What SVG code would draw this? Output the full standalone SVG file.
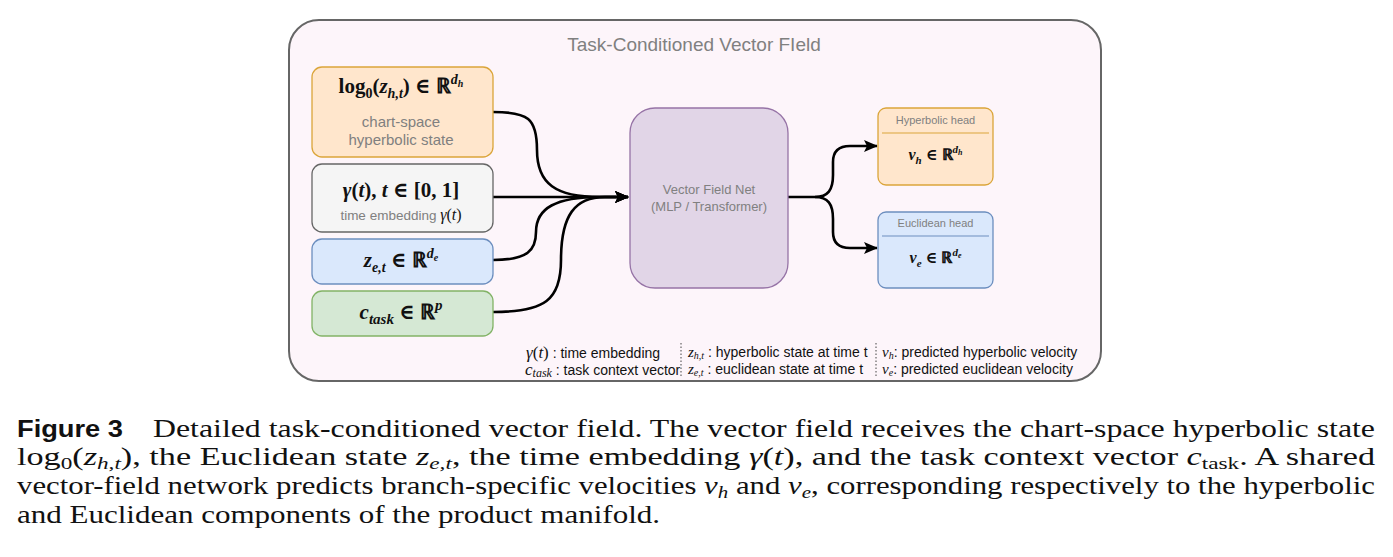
<svg xmlns="http://www.w3.org/2000/svg" width="1393" height="557" viewBox="0 0 1393 557">
<style>
.m{font-family:"Liberation Serif","DejaVu Serif",serif;fill:#111;}
.mb{font-family:"Liberation Serif","DejaVu Serif",serif;font-weight:bold;fill:#111;}
.g{font-family:"Liberation Sans",Arial,sans-serif;fill:#808080;}
.lg{font-family:"Liberation Sans",Arial,sans-serif;fill:#111;font-size:14px;}
.cap{font-family:"Liberation Serif","Times New Roman",serif;font-size:25px;fill:#111;}
.conn{fill:none;stroke:#000;stroke-width:2.6;}
</style>
<defs>
<marker id="arr" markerWidth="14" markerHeight="12" refX="13" refY="6" orient="auto" markerUnits="userSpaceOnUse">
<path d="M0,0 L14,6 L0,12 L3,6 z" fill="#000"/>
</marker>
</defs>
<rect width="1393" height="557" fill="#fff"/>
<g id="container">
<rect x="289" y="20" width="812" height="361" rx="30" fill="#fdf5fa" stroke="#666" stroke-width="2"/>
<text x="694" y="51" text-anchor="middle" class="g" font-size="19" fill="#666">Task-Conditioned Vector FIeld</text>
</g>
<g id="connectors">
<path class="conn" d="M493,112 C528,112 537,118 537,150 C537,184 556,197 600,197 L628,197" marker-end="url(#arr)"/>
<path class="conn" d="M493,197 L628,197" marker-end="url(#arr)"/>
<path class="conn" d="M493,260 C528,260 536,250 536,232 C536,208 556,197 600,197 L628,197" marker-end="url(#arr)"/>
<path class="conn" d="M493,312 C545,312 561,300 561,260 C561,215 575,197 605,197 L628,197" marker-end="url(#arr)"/>
<path class="conn" d="M788,197 L815,197 C828,197 833,190 833,175 L833,162 C833,152 838,146 850,146 L877,146" marker-end="url(#arr)"/>
<path class="conn" d="M815,197 C828,197 833,204 833,219 L833,232 C833,242 838,248 850,248 L877,248" marker-end="url(#arr)"/>
</g>
<g id="node-hyperbolic-state">
<rect x="312" y="67" width="181" height="90" rx="10" fill="#ffe6cc" stroke="#dba53a" stroke-width="1.3"/>
<text x="401" y="93" text-anchor="middle" class="mb" font-size="21">log<tspan dy="5" font-size="14">0</tspan><tspan dy="-5">(</tspan><tspan font-style="italic">z</tspan><tspan dy="5" font-size="14" font-style="italic">h,t</tspan><tspan dy="-5">) ∈ ℝ</tspan><tspan dy="-9" font-size="14" font-style="italic">d<tspan dy="3" font-size="10">h</tspan></tspan></text>
<text x="401" y="127" text-anchor="middle" class="g" font-size="15">chart-space</text>
<text x="401" y="145" text-anchor="middle" class="g" font-size="15">hyperbolic state</text>
</g>
<g id="node-time">
<rect x="312" y="164" width="181" height="68" rx="10" fill="#f5f5f5" stroke="#666" stroke-width="1.3"/>
<text x="401" y="197" text-anchor="middle" class="mb" font-size="21"><tspan font-style="italic">γ</tspan>(<tspan font-style="italic">t</tspan>), <tspan font-style="italic">t</tspan> ∈ [0, 1]</text>
<text x="401" y="220" text-anchor="middle" class="g" font-size="13.5">time embedding <tspan class="m" font-style="italic" fill="#808080" font-size="16">γ</tspan><tspan class="m" fill="#808080" font-size="16">(<tspan font-style="italic">t</tspan>)</tspan></text>
</g>
<g id="node-euclidean-state">
<rect x="312" y="239" width="181" height="45" rx="10" fill="#dae8fc" stroke="#6c8ebf" stroke-width="1.3"/>
<text x="401" y="267" text-anchor="middle" class="mb" font-size="21"><tspan font-style="italic">z</tspan><tspan dy="5" font-size="14" font-style="italic">e,t</tspan><tspan dy="-5"> ∈ ℝ</tspan><tspan dy="-9" font-size="14" font-style="italic">d<tspan dy="3" font-size="10">e</tspan></tspan></text>
</g>
<g id="node-task">
<rect x="312" y="291" width="181" height="45" rx="10" fill="#d5e8d4" stroke="#82b366" stroke-width="1.3"/>
<text x="401" y="319" text-anchor="middle" class="mb" font-size="21"><tspan font-style="italic">c</tspan><tspan dy="5" font-size="15" font-style="italic">task</tspan><tspan dy="-5"> ∈ ℝ</tspan><tspan dy="-9" font-size="15" font-style="italic">p</tspan></text>
</g>
<g id="node-vfnet">
<rect x="630" y="108" width="158" height="180" rx="25" fill="#e1d5e7" stroke="#9673a6" stroke-width="1.3"/>
<text x="709" y="194" text-anchor="middle" class="g" font-size="13" fill="#777">Vector Field Net</text>
<text x="709" y="211" text-anchor="middle" class="g" font-size="13" fill="#777">(MLP / Transformer)</text>
</g>
<g id="node-hyperbolic-head">
<rect x="878" y="108" width="115" height="77" rx="8" fill="#ffe6cc" stroke="#dba53a" stroke-width="1.3"/>
<text x="935.5" y="124" text-anchor="middle" class="g" font-size="11" fill="#777">Hyperbolic head</text>
<line x1="882" y1="133" x2="989" y2="133" stroke="#dba53a" stroke-width="1"/>
<text x="935.5" y="160" text-anchor="middle" class="mb" font-size="16"><tspan font-style="italic">v</tspan><tspan dy="4" font-size="11" font-style="italic">h</tspan><tspan dy="-4"> ∈ ℝ</tspan><tspan dy="-7" font-size="11" font-style="italic">d<tspan dy="2" font-size="8">h</tspan></tspan></text>
</g>
<g id="node-euclidean-head">
<rect x="878" y="212" width="115" height="76" rx="8" fill="#dae8fc" stroke="#6c8ebf" stroke-width="1.3"/>
<text x="935.5" y="227" text-anchor="middle" class="g" font-size="11" fill="#777">Euclidean head</text>
<line x1="882" y1="236" x2="989" y2="236" stroke="#6c8ebf" stroke-width="1"/>
<text x="935.5" y="263" text-anchor="middle" class="mb" font-size="16"><tspan font-style="italic">v</tspan><tspan dy="4" font-size="11" font-style="italic">e</tspan><tspan dy="-4"> ∈ ℝ</tspan><tspan dy="-7" font-size="11" font-style="italic">d<tspan dy="2" font-size="8">e</tspan></tspan></text>
</g>
<g id="legend">
<text x="526" y="358" class="lg"><tspan class="m" font-style="italic" font-size="17">γ</tspan><tspan class="m" font-size="17">(<tspan font-style="italic">t</tspan>)</tspan> : time embedding</text>
<text x="525" y="375" class="lg"><tspan class="m" font-style="italic" font-size="17">c</tspan><tspan class="m" font-style="italic" font-size="12" dy="2">task</tspan><tspan dy="-2"> : task context vector</tspan></text>
<line x1="681" y1="343" x2="681" y2="378" stroke="#444" stroke-width="1" stroke-dasharray="1.5,2"/>
<text x="688" y="357" class="lg"><tspan class="m" font-style="italic" font-size="15">z</tspan><tspan class="m" font-style="italic" font-size="10" dy="2">h,t</tspan><tspan dy="-2"> : hyperbolic state at time t</tspan></text>
<text x="688" y="374" class="lg"><tspan class="m" font-style="italic" font-size="15">z</tspan><tspan class="m" font-style="italic" font-size="10" dy="2">e,t</tspan><tspan dy="-2"> : euclidean state at time t</tspan></text>
<line x1="876" y1="343" x2="876" y2="378" stroke="#444" stroke-width="1" stroke-dasharray="1.5,2"/>
<text x="882" y="357" class="lg"><tspan class="m" font-style="italic" font-size="15">v</tspan><tspan class="m" font-style="italic" font-size="10" dy="2">h</tspan><tspan dy="-2">: predicted hyperbolic velocity</tspan></text>
<text x="882" y="374" class="lg"><tspan class="m" font-style="italic" font-size="15">v</tspan><tspan class="m" font-style="italic" font-size="10" dy="2">e</tspan><tspan dy="-2">: predicted euclidean velocity</tspan></text>
</g>
<g id="caption">
<text x="17" y="437" font-family="Liberation Sans,Arial,sans-serif" font-weight="bold" font-size="24" fill="#111" textLength="106" lengthAdjust="spacingAndGlyphs">Figure 3</text>
<text x="153" y="437" class="cap" textLength="1222" lengthAdjust="spacingAndGlyphs">Detailed task-conditioned vector field.  The vector field receives the chart-space hyperbolic state</text>
<text x="17" y="465" class="cap" textLength="1358" lengthAdjust="spacingAndGlyphs">log<tspan dy="4" font-size="17">0</tspan><tspan dy="-4">(</tspan><tspan font-style="italic">z</tspan><tspan dy="4" font-size="17" font-style="italic">h,t</tspan><tspan dy="-4">), the Euclidean state </tspan><tspan font-style="italic">z</tspan><tspan dy="4" font-size="17" font-style="italic">e,t</tspan><tspan dy="-4">, the time embedding </tspan><tspan font-style="italic">γ</tspan>(<tspan font-style="italic">t</tspan>), and the task context vector <tspan font-style="italic">c</tspan><tspan dy="4" font-size="17">task</tspan><tspan dy="-4">.  A shared</tspan></text>
<text x="17" y="494" class="cap" textLength="1358" lengthAdjust="spacingAndGlyphs">vector-field network predicts branch-specific velocities <tspan font-style="italic">v</tspan><tspan dy="4" font-size="17" font-style="italic">h</tspan><tspan dy="-4"> and </tspan><tspan font-style="italic">v</tspan><tspan dy="4" font-size="17" font-style="italic">e</tspan><tspan dy="-4">, corresponding respectively to the hyperbolic</tspan></text>
<text x="17" y="523" class="cap" textLength="643" lengthAdjust="spacingAndGlyphs">and Euclidean components of the product manifold.</text>
</g>
</svg>
